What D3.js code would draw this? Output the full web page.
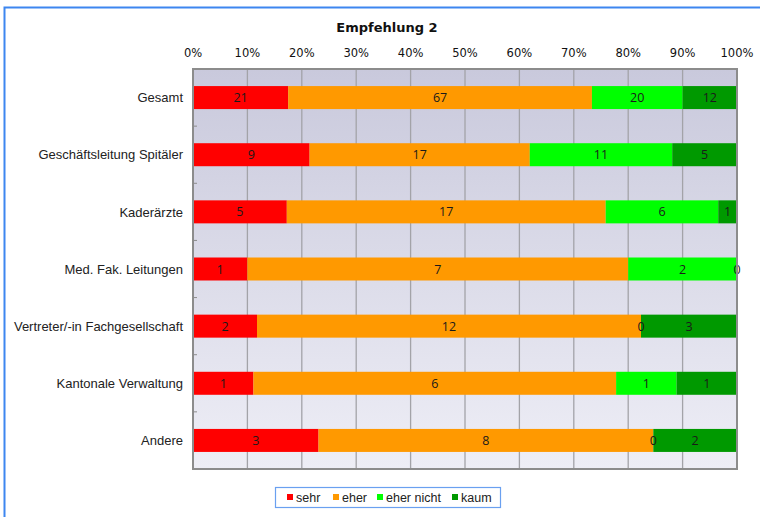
<!DOCTYPE html>
<html>
<head>
<meta charset="utf-8">
<script src="https://cdn.jsdelivr.net/npm/d3@7"></script>
<style>
  body { margin: 0; background: #fff; }
  svg { display: block; }
</style>
</head>
<body>
<script>
// chart data
const categories = ["Gesamt", "Geschäftsleitung Spitäler", "Kaderärzte", "Med. Fak. Leitungen",
  "Vertreter/-in Fachgesellschaft", "Kantonale Verwaltung", "Andere"];
const seriesNames = ["sehr", "eher", "eher nicht", "kaum"];
const sehr = [21, 9, 5, 1, 2, 1, 3];
const eher = [67, 17, 17, 7, 12, 6, 8];
const eherNicht = [20, 11, 6, 2, 0, 1, 0];
const kaum = [12, 5, 1, 0, 3, 1, 2];
const colors = ["#ff0000", "#ff9900", "#00ff00", "#009900"];
const tickValues = [0, 0.1, 0.2, 0.3, 0.4, 0.5, 0.6, 0.7, 0.8, 0.9, 1];

const width = 760, height = 517;
const margin = {top: 69, left: 193, right: 23, bottom: 48};

const svg = d3.select("body").append("svg")
    .attr("width", width)
    .attr("height", height);

// outer frame (cropped at right/bottom)
svg.append("rect")
    .attr("x", 4.5).attr("y", 7.5)
    .attr("width", 800).attr("height", 600)
    .attr("fill", "none")
    .attr("stroke", "#3d86f0")
    .attr("stroke-width", 2);

const rows = categories.map((c, i) => ({
  name: c, sehr: sehr[i], eher: eher[i], "eher nicht": eherNicht[i], kaum: kaum[i]
}));
rows.forEach(r => { r.total = seriesNames.reduce((s, k) => s + r[k], 0); });

const stack = d3.stack().keys(seriesNames)
    .value((d, k) => d[k] / d.total);
const series = stack(rows);

const x = d3.scaleLinear().domain([0, 1]).range([margin.left, width - margin.right]);
const y = d3.scaleBand().domain(categories).range([margin.top, height - margin.bottom]);
const barH = 23;

// background gradient
const defs = svg.append("defs");
const grad = defs.append("linearGradient")
    .attr("id", "bg").attr("x1", 0).attr("y1", 0).attr("x2", 0).attr("y2", 1);
grad.append("stop").attr("offset", "0%").attr("stop-color", "#c9c9dc");
grad.append("stop").attr("offset", "100%").attr("stop-color", "#eeeef6");

svg.append("rect")
    .attr("x", x(0)).attr("y", y.range()[0])
    .attr("width", x(1) - x(0)).attr("height", y.range()[1] - y.range()[0])
    .attr("fill", "url(#bg)");

// gridlines
svg.append("g")
  .selectAll("line")
  .data(tickValues.slice(1, -1))
  .enter().append("line")
    .attr("x1", d => x(d)).attr("x2", d => x(d))
    .attr("y1", y.range()[0]).attr("y2", y.range()[1])
    .attr("stroke", "#a3a3a8")
    .attr("stroke-width", 1.3);

// bars
const bars = svg.append("g")
  .selectAll("g")
  .data(series)
  .enter().append("g")
    .attr("fill", (d, i) => colors[i]);

bars.selectAll("rect")
  .data(d => d)
  .enter().append("rect")
    .attr("x", d => x(d[0]))
    .attr("width", d => x(d[1]) - x(d[0]))
    .attr("y", d => y(d.data.name) + y.bandwidth() / 2 - barH / 2)
    .attr("height", barH);

// value labels
svg.append("g")
  .selectAll("g")
  .data(series)
  .enter().append("g")
  .selectAll("text")
  .data(d => d.map(p => ({p, key: d.key})))
  .enter().append("text")
    .attr("x", d => (x(d.p[0]) + x(d.p[1])) / 2)
    .attr("y", d => y(d.p.data.name) + y.bandwidth() / 2)
    .attr("dy", "0.36em")
    .attr("text-anchor", "middle")
    .attr("font-family", "Open Sans, Liberation Sans, sans-serif")
    .attr("font-size", 12.5)
    .attr("fill", "#1a1a1a")
    .text(d => d.p.data[d.key]);

// plot border
svg.append("rect")
    .attr("x", x(0)).attr("y", y.range()[0])
    .attr("width", x(1) - x(0)).attr("height", y.range()[1] - y.range()[0])
    .attr("fill", "none")
    .attr("stroke", "#8c8c8c")
    .attr("stroke-width", 2);

// small ticks on category axis at band boundaries
svg.append("g")
  .selectAll("line")
  .data(categories.slice(1))
  .enter().append("line")
    .attr("x1", x(0)).attr("x2", x(0) + 4)
    .attr("y1", d => y(d)).attr("y2", d => y(d))
    .attr("stroke", "#8c8c8c");

// top axis labels
svg.append("g")
  .selectAll("text")
  .data(tickValues)
  .enter().append("text")
    .attr("x", d => x(d))
    .attr("y", 57)
    .attr("text-anchor", "middle")
    .attr("font-family", "DejaVu Sans, Verdana, sans-serif")
    .attr("font-size", 11.5)
    .attr("fill", "#111")
    .text(d => d3.format(".0%")(d));

// category labels
svg.append("g")
  .selectAll("text")
  .data(categories)
  .enter().append("text")
    .attr("x", x(0) - 10)
    .attr("y", d => y(d) + y.bandwidth() / 2)
    .attr("dy", "0.36em")
    .attr("text-anchor", "end")
    .attr("font-family", "Liberation Sans, Arial, sans-serif")
    .attr("font-size", 13)
    .attr("fill", "#222")
    .text(d => d);

// title
svg.append("text")
    .attr("x", 387).attr("y", 32)
    .attr("text-anchor", "middle")
    .attr("font-family", "DejaVu Sans, Verdana, sans-serif")
    .attr("font-weight", "bold")
    .attr("font-size", 13)
    .attr("fill", "#111")
    .text("Empfehlung 2");

// legend
const legend = svg.append("g").attr("transform", "translate(275,487)");
legend.append("rect")
    .attr("x", 0.5).attr("y", 0.5).attr("width", 225).attr("height", 20)
    .attr("fill", "#fff")
    .attr("stroke", "#6aa0f0")
    .attr("stroke-width", 1.2);
const legendX = [12, 58, 102, 177];
const items = legend.selectAll("g")
  .data(seriesNames)
  .enter().append("g")
    .attr("transform", (d, i) => `translate(${legendX[i]},0)`);
items.append("rect")
    .attr("x", 0).attr("y", 7).attr("width", 6).attr("height", 6)
    .attr("fill", (d, i) => colors[i]);
items.append("text")
    .attr("x", 9).attr("y", 10.5)
    .attr("dy", "0.36em")
    .attr("font-family", "Liberation Sans, Arial, sans-serif")
    .attr("font-size", 12.5)
    .attr("fill", "#222")
    .text(d => d);
</script>
</body>
</html>
